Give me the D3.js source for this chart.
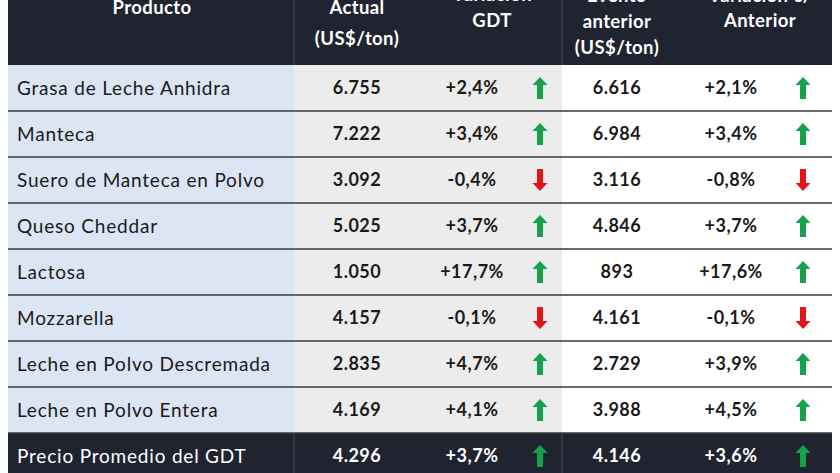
<!DOCTYPE html>
<html lang="es">
<head>
<meta charset="UTF-8">
<title>Precios GDT</title>
<style>
  body { margin: 0; background: #fff; }
  svg { display: block; font-family: Lato, "Open Sans", sans-serif; }
</style>
</head>
<body>
<div id="tabla"></div>
<script src="https://cdnjs.cloudflare.com/ajax/libs/d3/7.8.5/d3.min.js"></script>
<script>
// datos
var productos = ["Grasa de Leche Anhidra", "Manteca", "Suero de Manteca en Polvo", "Queso Cheddar",
                 "Lactosa", "Mozzarella", "Leche en Polvo Descremada", "Leche en Polvo Entera"];
var actual    = [6755, 7222, 3092, 5025, 1050, 4157, 2835, 4169];
var varGDT    = [2.4, 3.4, -0.4, 3.7, 17.7, -0.1, 4.7, 4.1];
var anterior  = [6616, 6984, 3116, 4846, 893, 4161, 2729, 3988];
var varAnt    = [2.1, 3.4, -0.8, 3.7, 17.6, -0.1, 3.9, 4.5];
var promedio  = {nombre: "Precio Promedio del GDT", actual: 4296, varGDT: 3.7, anterior: 4146, varAnt: 3.6};

var width = 840, height = 473,
    left = 8, right = 832,
    headH = 65, rowH = 46;

var es = d3.formatLocale({decimal: ",", thousands: ".", grouping: [3], currency: ["$", ""], minus: "-"});
var fmtNum = es.format(",d"),
    fmtPct = function(v) { return es.format("+.1f")(v) + "%"; };

var filas = productos.map(function(p, i) {
  return {nombre: p, actual: actual[i], varGDT: varGDT[i], anterior: anterior[i], varAnt: varAnt[i], total: false};
});
promedio.total = true;
filas.push(promedio);

var y = d3.scaleBand()
    .domain(d3.range(filas.length))
    .range([headH, headH + rowH * filas.length]);

// column edges / centres
var col = {prodEnd: 294, greyEnd: 562,
           nombre: 17, actual: 357, varGDT: 472, flechaGDT: 540,
           anterior: 617, varAnt: 731, flechaAnt: 803};

var svg = d3.select("#tabla").append("svg")
    .attr("width", width)
    .attr("height", height);

// backgrounds
svg.append("rect").attr("x", left).attr("y", 0).attr("width", right - left).attr("height", headH).attr("fill", "#1f2430");

var g = svg.selectAll(".fila")
    .data(filas)
  .enter().append("g")
    .attr("class", "fila")
    .attr("transform", function(d, i) { return "translate(0," + y(i) + ")"; });

g.append("rect").attr("x", left).attr("width", col.prodEnd - left).attr("height", y.bandwidth())
    .attr("fill", function(d) { return d.total ? "#1f2430" : "#dbe5f3"; });
g.append("rect").attr("x", col.prodEnd).attr("width", col.greyEnd - col.prodEnd).attr("height", y.bandwidth())
    .attr("fill", function(d) { return d.total ? "#1f2430" : "#ececec"; });
g.append("rect").attr("x", col.greyEnd).attr("width", right - col.greyEnd).attr("height", y.bandwidth())
    .attr("fill", function(d) { return d.total ? "#1f2430" : "#ffffff"; });

// separators
g.filter(function(d, i) { return i > 0; }).append("line")
    .attr("x1", left).attr("x2", right).attr("y1", 0).attr("y2", 0)
    .attr("stroke", "#3a3a3a").attr("stroke-width", 1.5);

// vertical lines in dark zones
[col.prodEnd, col.greyEnd].forEach(function(x) {
  svg.append("line").attr("x1", x).attr("x2", x).attr("y1", 0).attr("y2", headH)
      .attr("stroke", "#4a4f5a").attr("stroke-width", 1);
  svg.append("line").attr("x1", x).attr("x2", x).attr("y1", y(filas.length - 1)).attr("y2", height)
      .attr("stroke", "#4a4f5a").attr("stroke-width", 1);
});

var cy = y.bandwidth() / 2;
function color(d) { return d.total ? "#ffffff" : "#1a1a1a"; }

g.append("text").attr("x", col.nombre).attr("y", cy).attr("dy", "0.35em")
    .attr("font-size", 19).attr("letter-spacing", 0.8).attr("fill", color)
    .text(function(d) { return d.nombre; });

[["actual", fmtNum], ["varGDT", fmtPct], ["anterior", fmtNum], ["varAnt", fmtPct]].forEach(function(c) {
  g.append("text").attr("x", col[c[0]]).attr("y", cy).attr("dy", "0.35em")
      .attr("text-anchor", "middle").attr("font-size", 18).attr("letter-spacing", 0.5)
      .attr("font-weight", "bold").attr("fill", color)
      .text(function(d) { return c[1](d[c[0]]); });
});

// arrows
function flecha() {
  // drawn pointing up, centred on 0,0
  var p = d3.path();
  p.moveTo(0, -11); p.lineTo(7.5, -3); p.lineTo(3, -3); p.lineTo(3, 11);
  p.lineTo(-3, 11); p.lineTo(-3, -3); p.lineTo(-7.5, -3); p.closePath();
  return p.toString();
}
[["varGDT", col.flechaGDT], ["varAnt", col.flechaAnt]].forEach(function(c) {
  g.append("path")
      .attr("d", flecha())
      .attr("transform", function(d) { return "translate(" + c[1] + "," + cy + ")" + (d[c[0]] < 0 ? " rotate(180)" : ""); })
      .attr("fill", function(d) { return d[c[0]] < 0 ? "#e3151b" : "#15a24a"; });
});

// header
var cabecera = [
  {x: 152, lineas: [["Producto", 8]]},
  {x: col.actual, lineas: [["Actual", 8], ["(US$/ton)", 39]]},
  {x: col.varGDT + 20, lineas: [["Variación", -5], ["GDT", 21]]},
  {x: col.anterior, lineas: [["Evento", -4], ["anterior", 22], ["(US$/ton)", 48]]},
  {x: 760, lineas: [["Variación c/", -4], ["Anterior", 21]]}
];
cabecera.forEach(function(h) {
  h.lineas.forEach(function(l) {
    svg.append("text").attr("x", h.x).attr("y", l[1]).attr("dy", "0.35em")
        .attr("text-anchor", "middle").attr("font-size", 18.5).attr("letter-spacing", 0.4)
        .attr("font-weight", "bold").attr("fill", "#ffffff").text(l[0]);
  });
});
</script>
</body>
</html>
